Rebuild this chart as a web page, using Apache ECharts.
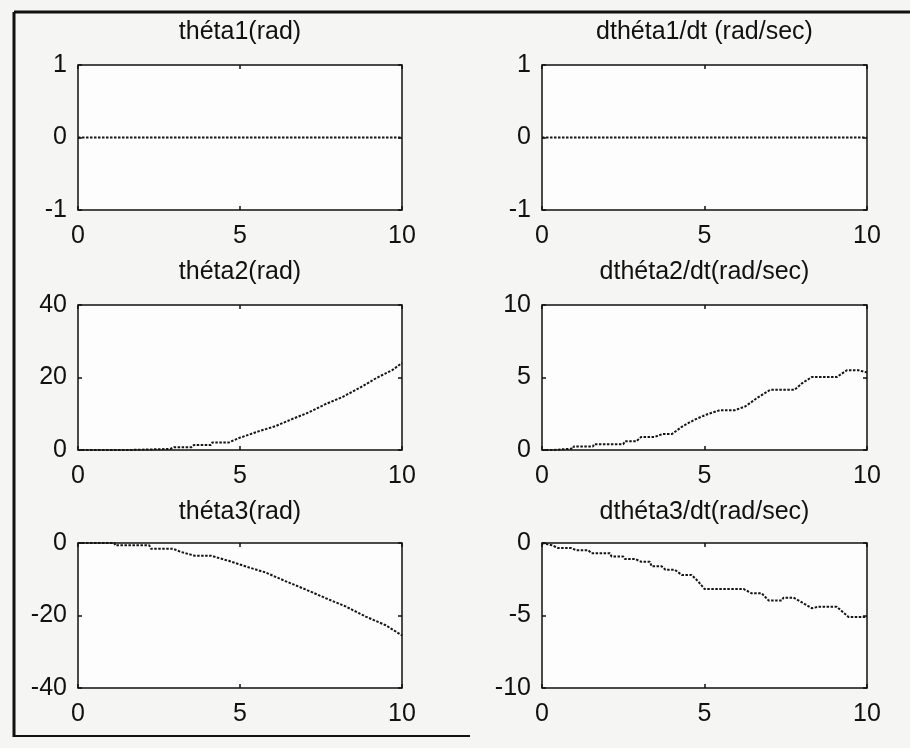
<!DOCTYPE html>
<html>
<head>
<meta charset="utf-8">
<title>théta</title>
<script src="https://cdn.jsdelivr.net/npm/echarts@6/dist/echarts.min.js"></script>
<style>
  html, body { margin: 0; padding: 0; background: #f5f5f4; }
  #main { width: 910px; height: 748px; }
</style>
</head>
<body>
<div id="main"></div>
<script>
// titres des sous-graphes
var titres = ['théta1(rad)', 'dthéta1/dt (rad/sec)', 'théta2(rad)', 'dthéta2/dt(rad/sec)', 'théta3(rad)', 'dthéta3/dt(rad/sec)'];

// temps (sec) et valeurs
var tTheta1 = [0, 10];
var theta1 = [0, 0];
var tDtheta1 = [0, 10];
var dtheta1 = [0, 0];

var tTheta2 = [0, 1.57, 1.6, 2.85, 2.96, 3.5, 3.58, 4.1, 4.15, 4.66, 4.97, 5.59, 6.1, 6.6, 7.13, 7.65, 8.16, 8.68, 9.2, 9.71, 10];
var theta2 = [0, 0, 0.3, 0.3, 0.75, 0.75, 1.4, 1.4, 2.1, 2.1, 3.3, 5.2, 6.6, 8.5, 10.4, 12.7, 14.6, 17.1, 19.8, 22.1, 24.0];

var tDtheta2 = [0, 0.34, 0.36, 0.96, 0.98, 1.57, 1.6, 2.5, 2.55, 2.9, 3.05, 3.47, 3.7, 4.0, 4.3, 4.7, 5.07, 5.48, 5.94, 6.25, 6.66, 7.02, 7.77, 8.0, 8.3, 9.07, 9.38, 9.74, 10];
var dtheta2 = [0, 0, 0.1, 0.1, 0.25, 0.25, 0.4, 0.4, 0.6, 0.6, 0.9, 0.9, 1.1, 1.1, 1.6, 2.1, 2.45, 2.75, 2.75, 3.0, 3.65, 4.15, 4.15, 4.6, 5.03, 5.03, 5.5, 5.5, 5.35];

var tTheta3 = [0, 1.12, 1.15, 2.2, 2.25, 2.93, 3.19, 3.6, 4.1, 4.64, 5.26, 5.78, 6.4, 7.02, 7.64, 8.26, 8.88, 9.5, 10];
var theta3 = [0, 0, -0.65, -0.65, -1.6, -1.6, -2.5, -3.5, -3.5, -4.9, -6.7, -8.1, -10.5, -12.8, -15.2, -17.5, -20.3, -22.7, -25.5];

var tDtheta3 = [0, 0.3, 0.5, 0.9, 1.06, 1.42, 1.52, 2.09, 2.14, 2.5, 2.55, 2.86, 3.06, 3.32, 3.37, 3.68, 3.8, 4.09, 4.3, 4.6, 4.81, 5.0, 6.2, 6.45, 6.76, 6.97, 7.38, 7.43, 7.74, 8.0, 8.3, 8.5, 9.07, 9.43, 10];
var dtheta3 = [0, -0.15, -0.35, -0.35, -0.5, -0.5, -0.7, -0.7, -0.93, -0.93, -1.1, -1.1, -1.3, -1.3, -1.6, -1.6, -1.85, -1.85, -2.2, -2.2, -2.66, -3.17, -3.17, -3.47, -3.47, -3.96, -3.96, -3.77, -3.77, -4.1, -4.5, -4.4, -4.4, -5.1, -5.1];

// bornes des axes y [min, max, pas]
var yMin = [-1, -1, 0, 0, -40, -10];
var yMax = [1, 1, 40, 10, 0, 0];
var yPas = [1, 1, 20, 5, 20, 5];

var tempsListe = [tTheta1, tDtheta1, tTheta2, tDtheta2, tTheta3, tDtheta3];
var valeursListe = [theta1, dtheta1, theta2, dtheta2, theta3, dtheta3];

var chart = echarts.init(document.getElementById('main'));

var police = 'Liberation Sans, Arial, sans-serif';
var gauches = [78, 542];
var largeurs = [324, 325];
var hauts = [65, 305, 543];
var centresTitre = [31, 271, 511];
var graduation = { inside: true, length: 4, lineStyle: { color: '#111', width: 1.5 } };

var grids = [], xAxes = [], yAxes = [], series = [], titles = [];

for (var i = 0; i < 6; i++) {
    var col = i % 2, row = Math.floor(i / 2);
    grids.push({
        left: gauches[col], top: hauts[row], width: largeurs[col], height: 145,
        show: true, borderColor: '#111', borderWidth: 1.5, backgroundColor: '#fdfdfd'
    });
    titles.push({
        text: titres[i],
        left: gauches[col] + largeurs[col] / 2,
        top: centresTitre[row] - 11,
        textAlign: 'center',
        padding: 0,
        textStyle: { fontFamily: police, fontSize: 25, fontWeight: 'normal', color: '#111' }
    });
}

// axes bas / gauche avec étiquettes
for (var i = 0; i < 6; i++) {
    xAxes.push({
        type: 'value', gridIndex: i, min: 0, max: 10, interval: 5, position: 'bottom',
        axisLine: { show: false, onZero: false }, splitLine: { show: false },
        axisTick: graduation,
        axisLabel: { margin: 14, fontFamily: police, fontSize: 25, color: '#111' }
    });
    yAxes.push({
        type: 'value', gridIndex: i, min: yMin[i], max: yMax[i], interval: yPas[i], position: 'left',
        axisLine: { show: false, onZero: false }, splitLine: { show: false },
        axisTick: graduation,
        axisLabel: { margin: 11, fontFamily: police, fontSize: 25, color: '#111' }
    });
}
// axes miroirs haut / droite (graduations seulement)
for (var i = 0; i < 6; i++) {
    xAxes.push({
        type: 'value', gridIndex: i, min: 0, max: 10, interval: 5, position: 'top',
        axisLine: { show: false, onZero: false }, splitLine: { show: false }, axisLabel: { show: false },
        axisTick: graduation
    });
    yAxes.push({
        type: 'value', gridIndex: i, min: yMin[i], max: yMax[i], interval: yPas[i], position: 'right',
        axisLine: { show: false, onZero: false }, splitLine: { show: false }, axisLabel: { show: false },
        axisTick: graduation
    });
}

for (var i = 0; i < 6; i++) {
    var t = tempsListe[i], v = valeursListe[i];
    var donnees = t.map(function (x, k) { return [x, v[k]]; });
    series.push({
        type: 'line', xAxisIndex: i, yAxisIndex: i, data: donnees,
        showSymbol: false, animation: false,
        lineStyle: { color: '#151515', width: 2, type: [2.5, 1.5] }
    });
}

var option = {
    backgroundColor: '#f5f5f4',
    animation: false,
    title: titles,
    grid: grids,
    xAxis: xAxes,
    yAxis: yAxes,
    series: series,
    // cadre de la figure scannée
    graphic: [
        { type: 'line', shape: { x1: 14, y1: 12, x2: 14, y2: 737 }, style: { stroke: '#111', lineWidth: 3 } },
        { type: 'line', shape: { x1: 14, y1: 12, x2: 910, y2: 12 }, style: { stroke: '#111', lineWidth: 3 } },
        { type: 'line', shape: { x1: 14, y1: 736, x2: 470, y2: 736 }, style: { stroke: '#111', lineWidth: 2 } }
    ]
};

chart.setOption(option);
window.addEventListener('resize', chart.resize);
</script>
</body>
</html>
